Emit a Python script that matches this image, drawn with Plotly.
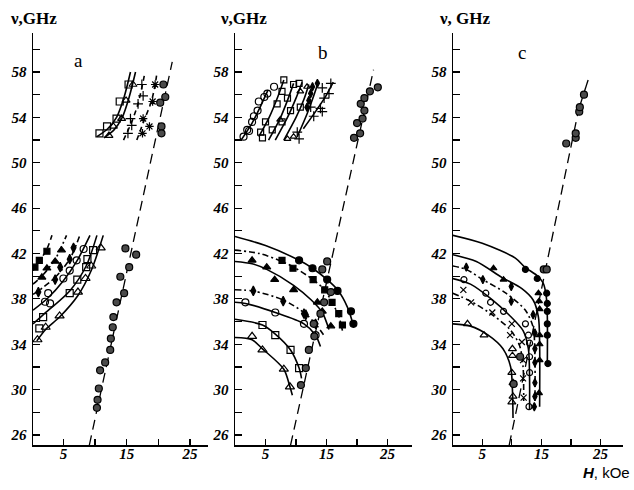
import plotly.graph_objects as go

# ---------------- Panel a ----------------
# lower fan of curves (H in kOe, nu in GHz)
a_fsq_line_H = [0.2, 1.2, 2.4, 3.2]
a_fsq_line_v = [40.5, 41.3, 42.4, 43.6]
a_ftri_line_H = [0.2, 1.6, 3.7, 5.5]
a_ftri_line_v = [39.3, 40.0, 41.5, 43.6]
a_dia_line_H = [0.2, 1.05, 3.7, 6.0, 7.6]
a_dia_line_v = [38.4, 38.7, 39.9, 41.5, 43.6]
a_oc_line_H = [0.2, 2.6, 5.0, 7.1, 9.2]
a_oc_line_v = [37.0, 38.1, 39.6, 41.3, 43.6]
a_osq_line_H = [0.2, 1.8, 6.0, 8.6, 10.3]
a_osq_line_v = [35.8, 36.6, 38.7, 40.9, 43.6]
a_otri_line_H = [0.8, 2.2, 4.4, 7.3, 9.4, 11.3]
a_otri_line_v = [34.3, 35.3, 36.4, 38.3, 40.5, 43.6]

a_fsq_H = [0.5, 1.2, 2.4]
a_fsq_v = [40.8, 41.4, 42.2]
a_ftri_H = [1.6, 2.4, 3.7, 4.7]
a_ftri_v = [39.9, 40.7, 41.3, 42.3]
a_dia_H = [1.05, 3.7, 4.5, 6.0, 6.6]
a_dia_v = [38.6, 39.7, 40.8, 41.5, 42.5]
a_oc_H = [2.1, 2.9, 2.6, 5.0, 6.0, 7.1, 8.2]
a_oc_v = [37.75, 37.6, 38.5, 39.8, 40.5, 41.4, 42.4]
a_osq_H = [1.2, 1.8, 6.0, 7.2, 8.6, 8.8, 9.7]
a_osq_v = [35.4, 36.4, 38.5, 39.7, 40.8, 41.5, 42.3]
a_otri_H = [0.9, 2.2, 4.4, 7.3, 8.5, 9.4, 10.9]
a_otri_v = [34.4, 35.5, 36.5, 38.6, 39.8, 40.9, 42.5]

# upper group
a_u_sq_line_H = [10.3, 12.0, 13.4, 14.6, 15.6]
a_u_sq_line_v = [52.3, 53.0, 54.0, 55.8, 58.0]
a_u_tri_line_H = [11.4, 13.0, 14.3, 15.4, 16.4]
a_u_tri_line_v = [52.2, 52.9, 54.0, 55.8, 58.0]
a_u_plus_line_H = [14.5, 15.8, 16.8, 17.5, 17.9]
a_u_plus_line_v = [52.0, 53.6, 55.2, 56.9, 58.0]
a_u_star_line_H = [16.6, 17.8, 18.9, 19.5, 19.8]
a_u_star_line_v = [52.0, 53.8, 55.4, 56.9, 58.0]
a_u_sq_H = [10.7, 11.9, 13.4, 13.9, 15.3]
a_u_sq_v = [52.6, 53.2, 53.9, 55.4, 56.9]
a_u_tri_H = [12.2, 12.9, 14.2, 14.9, 16.0]
a_u_tri_v = [52.4, 53.2, 53.9, 55.5, 56.9]
a_u_plus_H = [15.2, 15.8, 15.6, 16.8, 17.6, 17.4]
a_u_plus_v = [52.6, 53.3, 53.9, 55.2, 55.9, 56.9]
a_u_star_H = [17.5, 18.6, 17.6, 19.1, 19.5]
a_u_star_v = [52.6, 53.2, 53.9, 55.4, 56.9]

a_kit_H = [9.1, 22.2]
a_kit_v = [25.1, 58.9]
a_half_H = [10.3, 10.4, 10.6, 10.8, 11.6, 12.4, 12.5, 12.8, 12.9, 13.4, 14.0, 14.6,
            14.8, 15.4, 16.5, 20.8, 21.1, 20.3, 20.5, 20.5]
a_half_v = [28.4, 29.1, 30.1, 31.7, 32.4, 33.5, 34.5, 35.5, 36.4, 37.7, 39.95, 38.5,
            42.45, 40.8, 41.9, 56.9, 55.8, 55.3, 53.2, 52.6]

# ---------------- Panel b ----------------
b1_line_H = [0, 5, 10.5, 12.7, 15.1, 16.8, 18.4, 19.5]
b1_line_v = [43.5, 42.7, 41.4, 40.7, 39.7, 38.8, 37.3, 35.5]
b2_line_H = [0, 4, 7.7, 9.6, 12.8, 14.7, 15.9, 17.0, 17.6]
b2_line_v = [42.3, 42.0, 41.3, 40.8, 39.7, 38.8, 37.7, 36.5, 35.2]
b3_line_H = [0, 2.8, 5.2, 9.6, 12.5, 14.3, 15.4]
b3_line_v = [41.3, 41.1, 40.6, 39.2, 37.9, 36.8, 35.3]
b4_line_H = [0, 3.0, 7.9, 11.3, 13.2, 14.8]
b4_line_v = [38.8, 38.7, 37.9, 36.8, 35.8, 34.6]
b5_line_H = [0, 1.7, 6.6, 11.3, 13.2, 14.0]
b5_line_v = [37.7, 37.6, 36.8, 35.8, 34.8, 33.8]
b6_line_H = [0, 4.5, 6.6, 9.1, 10.5, 10.9]
b6_line_v = [36.2, 35.7, 34.9, 33.5, 31.9, 31.0]
b7_line_H = [0, 2.8, 4.5, 8.0, 9.0, 9.4]
b7_line_v = [34.6, 34.4, 33.6, 31.8, 30.25, 29.5]

b_fc_H = [10.5, 12.7, 15.1, 16.8, 19.0, 19.4]
b_fc_v = [41.4, 40.7, 39.7, 38.7, 36.9, 35.8]
b_fsq_H = [7.7, 9.5, 12.8, 14.7, 15.9, 17.0, 17.6]
b_fsq_v = [41.4, 40.7, 39.7, 38.8, 37.7, 36.7, 35.7]
b_ftri_H = [2.8, 5.2, 6.5, 9.6, 13.5, 14.3, 15.7]
b_ftri_v = [41.4, 40.8, 39.7, 38.8, 37.7, 36.9, 35.6]
b_dia_H = [3.0, 7.9, 11.3, 11.6, 13.2]
b_dia_v = [38.7, 37.8, 36.7, 36.6, 35.8]
b_oc_H = [1.7, 6.6, 11.3, 13.2]
b_oc_v = [37.7, 36.8, 35.8, 34.8]
b_osq_H = [4.5, 6.6, 9.1, 10.5]
b_osq_v = [35.7, 34.8, 33.5, 31.9]
b_otri_H = [2.8, 4.5, 8.0, 9.0]
b_otri_v = [34.7, 33.5, 31.8, 30.25]

b_kit_H = [9.1, 22.7]
b_kit_v = [25.1, 58.2]
b_half_H = [10.8, 11.6, 12.1, 13.0, 12.9, 14.0, 14.6, 15.7, 14.3, 15.1,
            19.5, 20.5, 20.0, 20.9, 21.2, 20.6, 21.2, 22.1, 23.4]
b_half_v = [30.4, 31.9, 33.5, 34.7, 35.8, 36.7, 37.7, 38.6, 40.6, 41.3,
            52.2, 52.6, 53.5, 53.9, 54.6, 55.2, 55.7, 56.3, 56.65]

# upper cluster
b_u1_H = [1.0, 2.8, 4.2, 5.4]
b_u1_v = [52.0, 53.5, 55.0, 56.4]
b_u2_H = [3.9, 5.6, 7.0, 8.0]
b_u2_v = [52.3, 54.0, 55.8, 57.3]
b_u3_H = [5.5, 7.3, 8.6, 9.6]
b_u3_v = [52.0, 53.8, 55.5, 57.0]
b_u4_H = [6.6, 8.6, 10.0, 11.0]
b_u4_v = [52.0, 54.0, 55.7, 57.1]
b_u5_H = [8.0, 10.0, 11.3, 12.1]
b_u5_v = [52.0, 54.0, 55.6, 56.9]
b_u6_H = [10.2, 11.8, 12.9, 13.7]
b_u6_v = [52.3, 54.3, 55.9, 57.2]
b_u7_H = [11.2, 13.3, 14.9, 16.1]
b_u7_v = [53.0, 54.6, 55.9, 57.1]

b_u_oc_H = [1.4, 2.0, 2.8, 3.1, 3.7, 3.9, 4.8, 5.3, 6.4, 2.3]
b_u_oc_v = [52.3, 52.9, 53.6, 54.1, 54.6, 55.4, 55.8, 56.1, 56.7, 52.8]
b_u_osq_H = [4.2, 4.5, 5.0, 6.1, 6.9, 7.7, 8.0, 8.6, 9.1, 9.6, 10.5, 10.7, 7.7]
b_u_osq_v = [52.7, 52.2, 53.6, 52.9, 55.2, 56.3, 57.3, 55.7, 54.6, 56.9, 57.0, 54.9, 53.6]
b_u_otri_H = [9.6, 8.6, 7.4, 11.8, 10.7]
b_u_otri_v = [52.3, 52.1, 53.8, 56.7, 56.3]
b_u_dia_H = [11.8, 12.1, 12.4, 12.7, 13.5]
b_u_dia_v = [54.9, 55.5, 56.1, 56.7, 57.0]
b_u_plus_H = [14.3, 15.4, 14.6, 12.4, 14.0, 12.9, 14.3, 10.2, 10.5, 15.7]
b_u_plus_v = [56.6, 56.1, 55.7, 54.9, 54.8, 54.1, 54.5, 52.7, 52.1, 57.0]

# ---------------- Panel c ----------------
c1_line_H = [0, 5, 10.6, 12.2, 14.4, 15.3, 15.8, 16.0, 16.0]
c1_line_v = [43.6, 42.9, 41.6, 40.8, 40.0, 39.4, 38.3, 36.5, 32.0]
c2_line_H = [0, 4, 8.3, 11.7, 13.6, 14.5, 14.7, 14.7]
c2_line_v = [41.9, 41.3, 39.9, 38.9, 37.9, 36.4, 34.0, 28.5]
c3_line_H = [0, 2.3, 5.1, 9.0, 12.3, 13.6, 13.9, 13.9]
c3_line_v = [40.9, 40.6, 39.7, 38.5, 37.0, 35.5, 33.0, 28.3]
c4_line_H = [0, 3.0, 6.5, 9.5, 11.9, 12.8, 13.0, 13.0]
c4_line_v = [39.8, 39.3, 38.0, 36.6, 35.2, 33.6, 31.0, 28.3]
c5_line_H = [0, 3.0, 6.7, 9.7, 11.3, 11.9, 12.0]
c5_line_v = [38.5, 37.8, 36.6, 35.3, 33.9, 32.0, 29.0]
c6_line_H = [0, 3.0, 6.0, 8.5, 9.8, 10.1, 10.2]
c6_line_v = [35.8, 35.6, 34.8, 33.6, 32.0, 30.0, 27.5]

c_fc_H = [12.3, 14.3, 15.9, 16.0, 16.0, 16.0, 16.0, 16.1]
c_fc_v = [40.6, 39.8, 38.5, 37.6, 36.9, 35.8, 34.8, 32.3]
c_ftri_H = [6.9, 8.6, 14.5, 14.6, 14.7, 14.7, 14.7, 14.7, 14.6]
c_ftri_v = [40.7, 39.7, 38.5, 37.8, 37.1, 34.8, 34.0, 32.6, 29.7]
c_dia_H = [2.3, 5.1, 9.9, 9.9, 13.6, 13.9, 13.9, 13.9, 13.9, 13.9, 13.8]
c_dia_v = [40.8, 39.7, 39.1, 37.8, 36.6, 35.0, 33.6, 32.4, 30.6, 29.4, 28.5]
c_oc_H = [1.9, 5.6, 6.4, 8.6, 12.3, 12.8, 13.0, 13.0, 13.0, 12.9]
c_oc_v = [39.7, 38.5, 37.7, 36.9, 35.8, 34.8, 34.1, 32.9, 31.5, 28.5]
c_x_H = [1.8, 3.1, 6.7, 10.0, 9.7, 11.7, 11.9, 11.9, 12.0]
c_x_v = [38.8, 37.7, 36.8, 35.8, 34.8, 34.2, 32.6, 31.0, 29.3]
c_otri_H = [2.5, 5.3, 10.1, 10.1, 10.0, 10.2, 10.2, 10.0]
c_otri_v = [35.8, 34.8, 33.6, 33.0, 31.5, 30.6, 29.4, 28.9]

c_kit_H = [9.55, 21.3]
c_kit_v = [25.1, 54.7]
c_kit_top_H = [21.3, 22.9]
c_kit_top_v = [54.7, 57.3]
c_half_H = [19.2, 20.8, 20.8, 21.4, 21.5, 22.2, 15.4, 11.4, 10.3, 15.9]
c_half_v = [51.7, 52.2, 52.6, 54.5, 54.9, 56.0, 40.6, 32.9, 30.5, 40.6]

# tick labels
y_ticks = list(range(26, 61, 2))
y_labels = [str(v) if v in (26, 30, 34, 38, 42, 46, 50, 54, 58) else "" for v in y_ticks]
x_ticks = [5, 10, 15, 20, 25]
x_labels = ["5", "", "15", "", "25"]

fig = go.Figure()
BLACK = "black"
GRAY = "#4a4a4a"


def curve(H, v, ax, dash="solid", shape="spline", width=1.6):
    fig.add_trace(go.Scatter(x=H, y=v, mode="lines", xaxis=ax[0], yaxis=ax[1],
                             line=dict(color=BLACK, width=width, dash=dash, shape=shape,
                                       smoothing=0.8),
                             showlegend=False, hoverinfo="skip"))


def pts(H, v, ax, symbol, size=7, color=BLACK, lw=1.2):
    fig.add_trace(go.Scatter(x=H, y=v, mode="markers", xaxis=ax[0], yaxis=ax[1],
                             marker=dict(symbol=symbol, size=size, color=color,
                                         line=dict(color=BLACK, width=lw)),
                             showlegend=False, hoverinfo="skip"))


A = ("x", "y")
B = ("x2", "y2")
C = ("x3", "y3")
DD = "6px,3px,2px,3px"
KD = "10px,6px"

# panel a
curve(a_fsq_line_H, a_fsq_line_v, A, dash="5px,4px")
curve(a_ftri_line_H, a_ftri_line_v, A, dash=DD)
curve(a_dia_line_H, a_dia_line_v, A, dash=DD)
curve(a_oc_line_H, a_oc_line_v, A)
curve(a_osq_line_H, a_osq_line_v, A)
curve(a_otri_line_H, a_otri_line_v, A)
curve(a_u_sq_line_H, a_u_sq_line_v, A)
curve(a_u_tri_line_H, a_u_tri_line_v, A)
curve(a_u_plus_line_H, a_u_plus_line_v, A, dash="5px,4px")
curve(a_u_star_line_H, a_u_star_line_v, A, dash="5px,4px")
curve(a_kit_H, a_kit_v, A, dash=KD, shape="linear", width=1.3)
pts(a_fsq_H, a_fsq_v, A, "square", 6)
pts(a_ftri_H, a_ftri_v, A, "triangle-up", 7)
pts(a_dia_H, a_dia_v, A, "diamond-tall", 7)
pts(a_oc_H, a_oc_v, A, "circle-open", 7)
pts(a_osq_H, a_osq_v, A, "square-open", 7)
pts(a_otri_H, a_otri_v, A, "triangle-up-open", 8)
pts(a_u_sq_H, a_u_sq_v, A, "square-open", 7)
pts(a_u_tri_H, a_u_tri_v, A, "triangle-up-open", 7)
pts(a_u_plus_H, a_u_plus_v, A, "cross-thin-open", 7)
pts(a_u_star_H, a_u_star_v, A, "asterisk-open", 7)
pts(a_half_H, a_half_v, A, "circle", 7, GRAY)

# panel b
curve(b1_line_H, b1_line_v, B)
curve(b2_line_H, b2_line_v, B, dash=DD)
curve(b3_line_H, b3_line_v, B)
curve(b4_line_H, b4_line_v, B, dash=DD)
curve(b5_line_H, b5_line_v, B)
curve(b6_line_H, b6_line_v, B)
curve(b7_line_H, b7_line_v, B)
for Hs, vs in [(b_u1_H, b_u1_v), (b_u2_H, b_u2_v), (b_u3_H, b_u3_v), (b_u4_H, b_u4_v),
               (b_u5_H, b_u5_v), (b_u6_H, b_u6_v), (b_u7_H, b_u7_v)]:
    curve(Hs, vs, B)
curve(b_kit_H, b_kit_v, B, dash=KD, shape="linear", width=1.3)
pts(b_fc_H, b_fc_v, B, "circle", 7)
pts(b_fsq_H, b_fsq_v, B, "square", 6)
pts(b_ftri_H, b_ftri_v, B, "triangle-up", 7)
pts(b_dia_H, b_dia_v, B, "diamond-tall", 7)
pts(b_oc_H, b_oc_v, B, "circle-open", 7)
pts(b_osq_H, b_osq_v, B, "square-open", 7)
pts(b_otri_H, b_otri_v, B, "triangle-up-open", 8)
pts(b_u_oc_H, b_u_oc_v, B, "circle-open", 7)
pts(b_u_osq_H, b_u_osq_v, B, "square-open", 6)
pts(b_u_otri_H, b_u_otri_v, B, "triangle-up-open", 6)
pts(b_u_dia_H, b_u_dia_v, B, "diamond-tall", 6)
pts(b_u_plus_H, b_u_plus_v, B, "cross-thin-open", 7)
pts(b_half_H, b_half_v, B, "circle", 7, GRAY)

# panel c
curve(c1_line_H, c1_line_v, C)
curve(c2_line_H, c2_line_v, C)
curve(c3_line_H, c3_line_v, C, dash=DD)
curve(c4_line_H, c4_line_v, C)
curve(c5_line_H, c5_line_v, C, dash=DD)
curve(c6_line_H, c6_line_v, C)
curve(c_kit_H, c_kit_v, C, dash=KD, shape="linear", width=1.3)
curve(c_kit_top_H, c_kit_top_v, C, shape="linear", width=1.3)
pts(c_fc_H, c_fc_v, C, "circle", 6)
pts(c_ftri_H, c_ftri_v, C, "triangle-up", 6)
pts(c_dia_H, c_dia_v, C, "diamond-tall", 6)
pts(c_oc_H, c_oc_v, C, "circle-open", 6)
pts(c_x_H, c_x_v, C, "x-thin-open", 6)
pts(c_otri_H, c_otri_v, C, "triangle-up-open", 7)
pts(c_half_H, c_half_v, C, "circle", 7, GRAY)

W, Hh = 634, 490
tickfont = dict(family="Liberation Sans Narrow", size=15, color=BLACK,
                style="italic", weight="bold")


def xax(x0, x1, rng, anchor):
    return dict(domain=[x0 / W, x1 / W], range=rng, anchor=anchor, showline=True,
                linecolor=BLACK, linewidth=1.5, ticks="inside", ticklen=6, tickwidth=1.2,
                tickcolor=BLACK, tickvals=x_ticks, ticktext=x_labels, tickfont=tickfont,
                ticklabelstandoff=-6,
                showgrid=False, zeroline=False, fixedrange=True)


def yax(anchor):
    return dict(domain=[45 / Hh, 457 / Hh], range=[25.12, 61.44], anchor=anchor,
                showline=True, linecolor=BLACK, linewidth=1.5, ticks="inside", ticklen=7,
                tickwidth=1.2, tickcolor=BLACK, tickvals=y_ticks, ticktext=y_labels,
                tickfont=tickfont, ticklabelstandoff=2,
                showgrid=False, zeroline=False, fixedrange=True)


serif = "Liberation Serif"
annots = []
for xpx, ttl in ((8, "<b>ν,GHz</b>"), (218, "<b>ν,GHz</b>"), (437, "<b>ν, GHz</b>")):
    annots.append(dict(x=xpx / W, y=1 - 18 / Hh, xref="paper", yref="paper",
                       xanchor="left", yanchor="middle", showarrow=False,
                       text=ttl, font=dict(family=serif, size=17, color=BLACK)))
for txt, xpx, ypx in (("a", 78, 60), ("b", 323, 53), ("c", 522, 53)):
    annots.append(dict(x=xpx / W, y=1 - ypx / Hh, xref="paper", yref="paper",
                       xanchor="center", yanchor="middle", showarrow=False,
                       text=txt, font=dict(family=serif, size=19, color=BLACK)))
annots.append(dict(x=631 / W, y=1 - 472 / Hh, xref="paper", yref="paper",
                   xanchor="right", yanchor="middle", showarrow=False, borderpad=0,
                   text="<b><i>H</i></b>, kOe",
                   font=dict(family="Liberation Sans", size=15, color=BLACK)))

fig.update_layout(
    width=W, height=Hh, margin=dict(l=0, r=0, t=0, b=0),
    paper_bgcolor="white", plot_bgcolor="white", showlegend=False,
    xaxis=xax(33, 208, [0.2, 27.85], "y"),
    xaxis2=xax(235, 412, [0, 29.0], "y2"),
    xaxis3=xax(453, 623, [0.05, 28.8], "y3"),
    yaxis=yax("x"), yaxis2=yax("x2"), yaxis3=yax("x3"),
    annotations=annots,
)

fig.write_html("out.html", config={"displayModeBar": False, "staticPlot": True},
               post_script="document.body.style.margin='0';"
                           "document.body.style.overflow='hidden';")
